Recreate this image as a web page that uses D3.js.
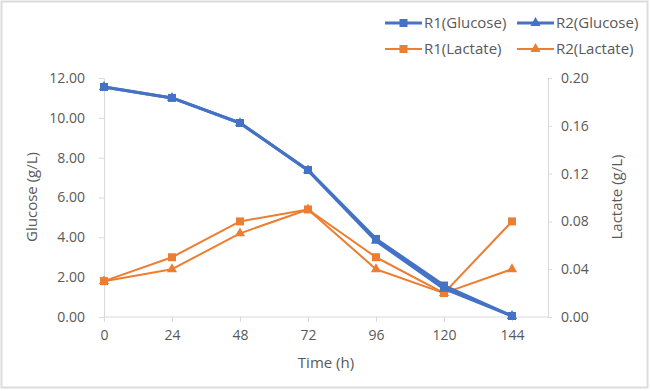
<!DOCTYPE html>
<html><head><meta charset="utf-8">
<script src="https://cdn.jsdelivr.net/npm/d3@7"></script>
<style>body{margin:0;background:#fff}svg{display:block}text{font-family:"Open Sans","Noto Sans",sans-serif;fill:#595959}</style>
</head><body><svg id="c" width="650" height="391"></svg>
<script>
const times = [0, 24, 48, 72, 96, 120, 144];
const r1Glucose = [11.55, 11.0, 9.74, 7.38, 3.92, 1.58, 0.05];
const r2Glucose = [11.55, 11.0, 9.74, 7.36, 3.82, 1.42, 0.05];
const r1Lactate = [0.030, 0.050, 0.080, 0.090, 0.050, 0.020, 0.080];
const r2Lactate = [0.030, 0.040, 0.070, 0.090, 0.040, 0.020, 0.040];
const leftTicks = [0, 2, 4, 6, 8, 10, 12];
const rightTicks = [0, 0.04, 0.08, 0.12, 0.16, 0.20];
const seriesNames = ["R1(Glucose)", "R2(Glucose)", "R1(Lactate)", "R2(Lactate)"];

const svg = d3.select("#c");
const blue = "#4472C4", orange = "#ED7D31", axisCol = "#d9d9d9";
svg.append("rect").attr("x",1.5).attr("y",1.5).attr("width",646).attr("height",386).attr("fill","#fff").attr("stroke","#dcdcdc").attr("stroke-width",2);

const x = d3.scaleLinear().domain([0,144]).range([104,512]);
const yL = d3.scaleLinear().domain([0,12]).range([317,78]);
const yR = d3.scaleLinear().domain([0,0.2]).range([317,78]);
const xEnd = 548;

function styleAxis(g){
  g.selectAll("path,line").attr("stroke",axisCol);
  g.selectAll("text").attr("font-size",14).attr("fill","#595959");
}
// x axis
const gx = svg.append("g").attr("transform","translate(0,317)")
  .call(d3.axisBottom(x).tickValues(times).tickSize(5).tickPadding(8).tickSizeOuter(0));
gx.select(".domain").remove();
gx.append("line").attr("x1",104).attr("x2",xEnd).attr("y1",0).attr("y2",0);
styleAxis(gx);
// left axis
const gl = svg.append("g").attr("transform","translate(104,0)")
  .call(d3.axisLeft(yL).tickValues(leftTicks).tickFormat(d3.format(".2f")).tickSize(5).tickPadding(14).tickSizeOuter(0));
styleAxis(gl);
// right axis
const gr = svg.append("g").attr("transform","translate("+xEnd+",0)")
  .call(d3.axisRight(yR).tickValues(rightTicks).tickFormat(d3.format(".2f")).tickSize(4).tickPadding(9).tickSizeOuter(0));
styleAxis(gr);

// titles
svg.append("text").attr("x",326).attr("y",368).attr("text-anchor","middle").attr("font-size",15).text("Time (h)");
svg.append("text").attr("transform","translate(37,197) rotate(-90)").attr("text-anchor","middle").attr("font-size",15).text("Glucose (g/L)");
svg.append("text").attr("transform","translate(622,197) rotate(-90)").attr("text-anchor","middle").attr("font-size",15).text("Lactate (g/L)");

const series = [
  {vals:r1Glucose, y:yL, color:blue, w:3, marker:"square"},
  {vals:r2Glucose, y:yL, color:blue, w:3, marker:"triangle"},
  {vals:r1Lactate, y:yR, color:orange, w:2, marker:"square"},
  {vals:r2Lactate, y:yR, color:orange, w:2, marker:"triangle"}
];
const sq = d3.symbol().type(d3.symbolSquare).size(64);
const tri = d3.symbol().type(d3.symbolTriangle).size(45);
function drawSeries(s, g){
  const line = d3.line().x((d,i)=>x(times[i])).y(d=>s.y(d));
  g.append("path").datum(s.vals).attr("d",line).attr("fill","none").attr("stroke",s.color).attr("stroke-width",s.w).attr("stroke-linejoin","round");
  g.selectAll("path.m").data(s.vals).join("path").attr("class","m")
    .attr("transform",(d,i)=>"translate("+x(times[i])+","+s.y(d)+")")
    .attr("d", s.marker==="square"?sq():tri()).attr("fill",s.color);
}
[series[2],series[3],series[0],series[1]].forEach(s=>drawSeries(s, svg.append("g")));

// legend
const legPos = [[385,23],[517,23],[385,49],[517,49]];
series.forEach((s,i)=>{
  const [lx,ly] = legPos[i];
  const g = svg.append("g");
  g.append("line").attr("x1",lx).attr("x2",lx+37).attr("y1",ly).attr("y2",ly).attr("stroke",s.color).attr("stroke-width",s.w);
  g.append("path").attr("transform","translate("+(lx+18.5)+","+ly+")").attr("d", s.marker==="square"?sq():tri()).attr("fill",s.color);
  g.append("text").attr("x",lx+39).attr("y",ly+5).attr("font-size",15).text(seriesNames[i]);
});
</script></body></html>
